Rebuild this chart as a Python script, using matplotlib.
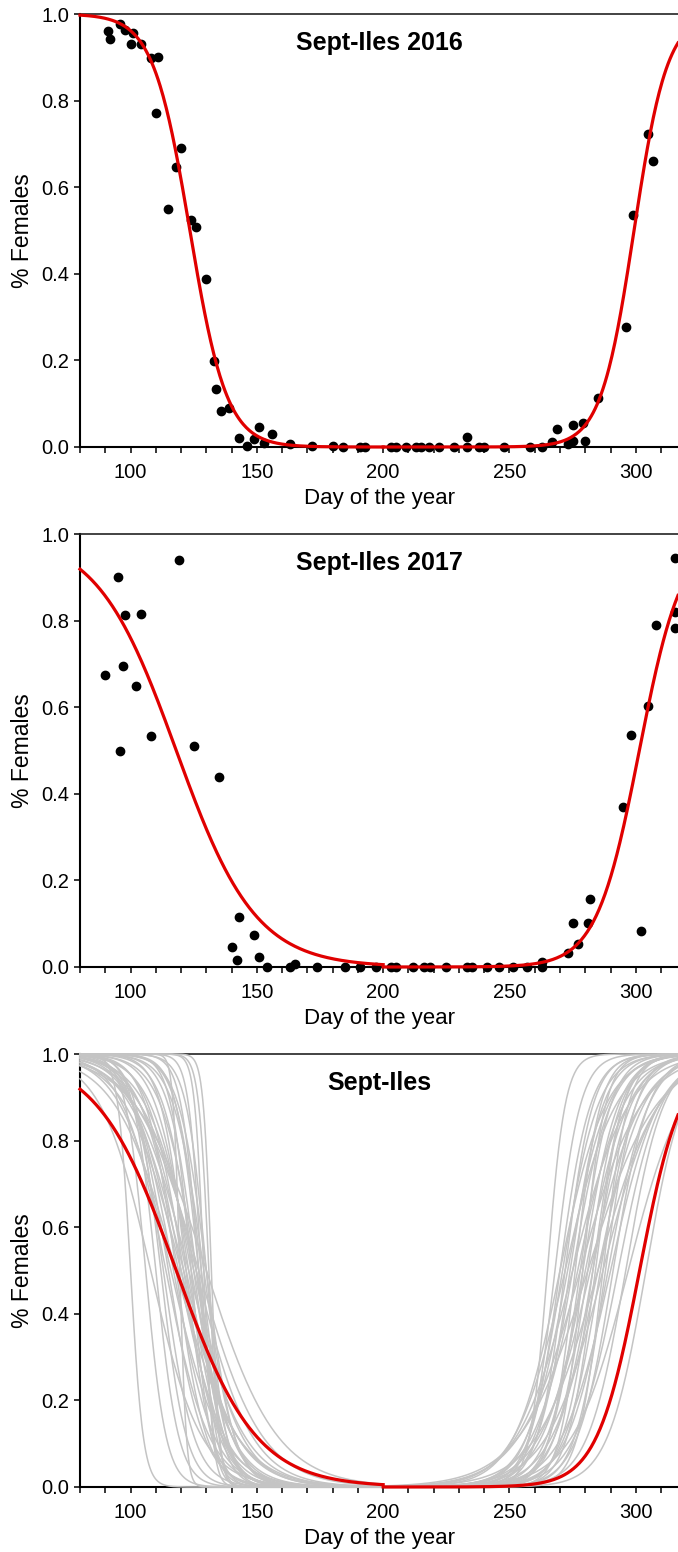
import numpy as np
import matplotlib.pyplot as plt

plt.rcParams['font.family'] = ['Liberation Sans', 'DejaVu Sans']

# --- observations (day of year, share of females) ---
days_2016 = [91, 92, 96, 98, 100, 101, 104, 108, 110, 111,
             115, 118, 120, 124, 126, 130, 133, 134, 136, 139,
             143, 146, 149, 151, 153, 156, 163, 172, 180, 184,
             191, 193, 203, 205, 209, 213, 215, 218, 222, 228,
             233, 233, 238, 240, 248, 258, 263, 267, 269, 273,
             275, 275, 279, 280, 285, 296, 299, 305, 307]
fem_2016 = [0.961, 0.942, 0.978, 0.963, 0.931, 0.955, 0.931, 0.899, 0.771, 0.901,
            0.550, 0.647, 0.691, 0.524, 0.509, 0.387, 0.199, 0.135, 0.084, 0.091,
            0.021, 0.002, 0.018, 0.047, 0.010, 0.030, 0.008, 0.002, 0.002, 0.0,
            0.0, 0.0, 0.0, 0.0, 0.0, 0.0, 0.0, 0.0, 0.0, 0.0,
            0.024, 0.0, 0.0, 0.0, 0.0, 0.0, 0.0, 0.011, 0.042, 0.007,
            0.013, 0.051, 0.056, 0.014, 0.114, 0.278, 0.536, 0.723, 0.660]

days_2017 = [90, 95, 96, 97, 98, 102, 104, 108, 119, 125,
             135, 140, 142, 143, 149, 151, 154, 163, 165, 174,
             185, 191, 197, 203, 205, 212, 216, 218.5, 225, 233,
             235, 241, 246, 251.5, 257, 263, 263, 273, 275, 277,
             281, 282, 295, 298, 302, 305, 308, 315.5, 315.5, 315.5]
fem_2017 = [0.674, 0.900, 0.500, 0.694, 0.812, 0.650, 0.815, 0.533, 0.940, 0.510,
            0.439, 0.047, 0.016, 0.115, 0.073, 0.024, 0.0, 0.0, 0.008, 0.0,
            0.0, 0.0, 0.0, 0.0, 0.0, 0.0, 0.0, 0.0, 0.0, 0.0,
            0.0, 0.0, 0.0, 0.0, 0.0, 0.011, 0.0, 0.032, 0.101, 0.053,
            0.102, 0.157, 0.369, 0.536, 0.084, 0.603, 0.790, 0.944, 0.821, 0.782]

# --- fitted logistic curves: [midpoint day, width in days] ---
fit_2016_spring = [123.5, 7.3]
fit_2016_fall = [299.3, 6.6]
fit_2017_spring = [118.1, 15.7]
fit_2017_fall = [301.4, 8.5]
fit_all_spring = [118.1, 15.7]
fit_all_fall = [301.5, 8.4]

# grey curves in the combined panel (one per resampled fit)
boot_spring_mid = [100, 119.5, 129, 131, 132, 128, 122, 124, 126, 127,
                   125, 128, 130, 121, 123, 126, 129, 127, 124, 130,
                   116, 118, 120, 122, 119, 117, 121, 115, 113, 125,
                   112, 118, 110, 120, 123, 114, 108, 106, 130, 127,
                   126]
boot_spring_width = [2.5, 1.3, 1.8, 2.0, 1.6, 2.5, 5, 4, 5.5, 4.5,
                     6, 5, 4, 7, 6.5, 7, 6, 3.5, 8, 5.5,
                     10, 12, 11, 9, 9, 8, 10.5, 7, 6, 9.5,
                     5, 6, 4.5, 8, 11, 8.5, 10, 4, 14, 12.5,
                     11]
boot_fall_mid = [265, 268, 270, 271, 272, 273, 274, 275, 276, 277,
                 278, 279, 280, 281, 282, 283, 284, 285, 286, 287,
                 288, 289, 290, 291, 278, 281, 275, 272, 285, 296,
                 304, 293, 297, 270, 279, 283, 287]
boot_fall_width = [3.5, 5, 6, 7, 5.5, 8, 6.5, 7.5, 5, 9,
                   6, 7, 8.5, 6.5, 10, 7.5, 5.5, 9, 7, 11,
                   6, 8, 9.5, 7, 12, 13.5, 11, 10, 12, 7.5,
                   7.5, 8.5, 11, 9, 4.5, 6, 5]

titles = ['Sept-Iles 2016', 'Sept-Iles 2017', 'Sept-Iles']
x_ticks = list(range(80, 311, 10))
x_ticklabels = [str(d) if d % 50 == 0 else '' for d in x_ticks]
y_ticks = [0.0, 0.2, 0.4, 0.6, 0.8, 1.0]
y_ticklabels = ['0.0', '0.2', '0.4', '0.6', '0.8', '1.0']

XMIN, XMAX = 80, 316.7
SWITCH = 200  # spring part before, fall part after
RED = '#e00000'


def logistic(day, mid, width, rising):
    z = (day - mid) / width
    if rising:
        return 1.0 / (1.0 + np.exp(-z))
    return 1.0 / (1.0 + np.exp(z))


def draw_fit(ax, spring, fall, **kw):
    d1 = np.linspace(XMIN, SWITCH, 300)
    d2 = np.linspace(SWITCH, XMAX, 300)
    ax.plot(d1, logistic(d1, spring[0], spring[1], False), clip_on=False, **kw)
    ax.plot(d2, logistic(d2, fall[0], fall[1], True), clip_on=False, **kw)


def style_axis(ax, title):
    ax.set_xlim(XMIN, XMAX)
    ax.set_ylim(0, 1)
    ax.spines['right'].set_visible(False)
    for s in ['left', 'bottom']:
        ax.spines[s].set_linewidth(1.5)
    ax.spines['top'].set_linewidth(1.2)
    ax.spines['top'].set_color('#222222')
    ax.set_xticks(x_ticks)
    ax.set_xticklabels(x_ticklabels)
    ax.set_yticks(y_ticks)
    ax.set_yticklabels(y_ticklabels)
    ax.tick_params(axis='x', direction='out', length=4.3, width=1.1, pad=7.5, labelsize=14.5)
    ax.tick_params(axis='y', direction='out', length=4.3, width=1.1, pad=3.5, labelsize=14.5)
    ax.set_xlabel('Day of the year', fontsize=16)
    ax.xaxis.set_label_coords(0.5, -0.094)
    ax.set_ylabel('% Females', fontsize=16.5)
    ax.yaxis.set_label_coords(-0.077, 0.5)
    ax.text(0.5, 1 - 36 / 433, title, transform=ax.transAxes, ha='center',
            va='baseline', fontsize=18, fontweight='bold')


fig = plt.figure(figsize=(6.78, 15.52), dpi=100)
left, width, height = 80 / 678, 598 / 678, 433 / 1552
bottoms = [1 - 447 / 1552, 1 - 967 / 1552, 1 - 1487 / 1552]
axes = [fig.add_axes([left, b, width, height]) for b in bottoms]

# Sept-Iles 2016
ax = axes[0]
ax.plot(days_2016, fem_2016, 'o', color='black', markersize=6, clip_on=False, zorder=3)
draw_fit(ax, fit_2016_spring, fit_2016_fall, color=RED, lw=2.3, zorder=4)
style_axis(ax, titles[0])

# Sept-Iles 2017
ax = axes[1]
ax.plot(days_2017, fem_2017, 'o', color='black', markersize=6, clip_on=False, zorder=3)
draw_fit(ax, fit_2017_spring, fit_2017_fall, color=RED, lw=2.3, zorder=4)
style_axis(ax, titles[1])

# combined fit with the resampled curves
ax = axes[2]
for i in range(len(boot_spring_mid)):
    d1 = np.linspace(XMIN, SWITCH, 300)
    ax.plot(d1, logistic(d1, boot_spring_mid[i], boot_spring_width[i], False),
            color='#c4c4c4', lw=1.1, zorder=3, clip_on=False)
for i in range(len(boot_fall_mid)):
    d2 = np.linspace(SWITCH, XMAX, 300)
    ax.plot(d2, logistic(d2, boot_fall_mid[i], boot_fall_width[i], True),
            color='#c4c4c4', lw=1.1, zorder=3, clip_on=False)
draw_fit(ax, fit_all_spring, fit_all_fall, color=RED, lw=2.3, zorder=4)
style_axis(ax, titles[2])

fig.savefig('out.png', dpi=100)
